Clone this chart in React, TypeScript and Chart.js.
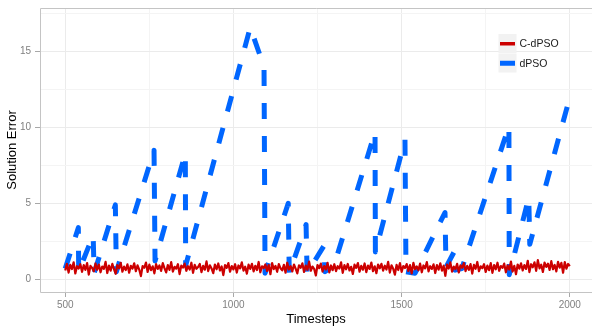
import React, { useEffect, useRef } from 'react';
import { Chart, registerables } from 'chart.js';

Chart.register(...registerables);

// ---- data ----
const seriesNames = ['C-dPSO', 'dPSO'];
const seriesColors = ['#CC0000', '#0066FF'];

// dPSO (dashed blue) vertices: timestep / error
const dpsoT = [500, 539, 540, 583, 586, 649, 652, 764, 767, 857, 858, 1050, 1091, 1094, 1163, 1166, 1216, 1219, 1269, 1272, 1299, 1421, 1422, 1510, 1513, 1540, 1629, 1632, 1656, 1659, 1679, 1819, 1820, 1878, 1881, 2000];
const dpsoV = [0.7, 3.4, 0.5, 2.9, 0.4, 4.9, 0.5, 8.5, 1.2, 8.3, 0.9, 16.6, 14.0, 0.4, 5.0, 0.4, 3.6, 0.4, 2.2, 0.5, 0.9, 9.7, 1.8, 9.2, 0.5, 0.4, 4.4, 0.8, 1.8, 0.6, 0.7, 10.1, 0.3, 5.4, 2.3, 12.0];

// C-dPSO (red) sampled every 5 timesteps from 500 to 2000
const cdpsoStart = 500;
const cdpsoStep = 5;
const cdpsoV = [
  0.58, 1.02, 0.44, 0.95, 0.67, 1.12, 0.38, 0.86, 0.71, 0.99, 0.49, 0.93, 0.62, 1.07, 0.31, 0.88, 0.74, 0.52, 1.04, 0.63,
  0.97, 0.46, 0.84, 0.69, 1.15, 0.41, 0.90, 0.57, 1.01, 0.66, 0.36, 0.94, 0.72, 1.08, 0.50, 0.83, 0.61, 0.98, 0.43, 0.89,
  0.70, 1.05, 0.53, 0.92, 0.64, 0.21, 0.87, 0.76, 1.10, 0.48, 0.96, 0.60, 0.85, 0.39, 1.00, 0.68, 0.91, 0.55, 1.06, 0.73,
  0.45, 0.94, 0.62, 1.13, 0.51, 0.82, 0.70, 0.99, 0.34, 0.90, 0.77, 1.03, 0.56, 0.86, 0.64, 1.09, 0.42, 0.95, 0.69, 0.81,
  1.01, 0.47, 0.88, 0.63, 1.18, 0.54, 0.92, 0.71, 0.40, 0.97, 0.66, 1.04, 0.58, 0.84, 0.27, 0.93, 0.75, 1.07, 0.50, 0.87,
  0.65, 0.99, 0.44, 0.91, 0.72, 1.11, 0.57, 0.83, 0.37, 0.96, 0.68, 1.02, 0.52, 0.89, 0.61, 1.14, 0.46, 0.85, 0.74, 0.98,
  0.55, 0.93, 0.33, 1.06, 0.67, 0.88, 0.49, 1.00, 0.72, 0.59, 0.95, 0.43, 1.09, 0.64, 0.86, 0.52, 0.97, 0.70, 0.39, 0.92,
  0.76, 1.05, 0.48, 0.90, 0.62, 1.16, 0.56, 0.84, 0.69, 0.25, 0.94, 0.73, 1.03, 0.51, 0.87, 0.65, 1.08, 0.45, 0.91, 0.60,
  0.99, 0.54, 0.86, 0.71, 1.12, 0.42, 0.93, 0.66, 1.01, 0.58, 0.82, 0.35, 0.96, 0.75, 1.07, 0.50, 0.88, 0.63, 1.04, 0.47,
  0.90, 0.68, 1.10, 0.53, 0.85, 0.40, 0.97, 0.72, 1.02, 0.57, 0.89, 0.64, 1.15, 0.44, 0.92, 0.70, 0.30, 0.95, 0.61, 1.06,
  0.49, 0.87, 0.74, 1.00, 0.55, 0.93, 0.38, 1.08, 0.66, 0.84, 0.59, 1.03, 0.46, 0.91, 0.72, 1.13, 0.52, 0.86, 0.68, 0.98,
  0.41, 0.94, 0.63, 1.05, 0.57, 0.89, 0.23, 0.96, 0.71, 1.11, 0.50, 0.83, 0.67, 1.02, 0.45, 0.92, 0.76, 1.07, 0.54, 0.88,
  0.62, 1.00, 0.37, 0.95, 0.69, 1.14, 0.53, 0.85, 0.73, 0.99, 0.48, 0.90, 0.60, 1.06, 0.42, 0.94, 0.66, 1.09, 0.56, 0.87,
  0.75, 1.03, 0.46, 0.91, 0.64, 1.17, 0.51, 0.88, 0.33, 0.97, 0.70, 1.05, 0.58, 0.93, 0.68, 1.22, 0.47, 0.99, 0.79, 1.12,
  0.55, 1.26, 0.72, 0.96, 0.48, 1.10, 0.81, 1.03, 0.61, 1.19, 0.66, 0.94, 0.52, 1.15, 0.77, 1.08, 0.43, 1.13, 0.70, 1.01,
  0.86,
];

const xTicks = [500, 750, 1000, 1250, 1500, 1750, 2000];
const xMajor = [500, 1000, 1500, 2000];
const yTicks = [0, 2.5, 5, 7.5, 10, 12.5, 15, 17.5];
const yMajor = [0, 5, 10, 15];

const FONT = "'Liberation Sans', Arial, Helvetica, sans-serif";

const panelPlugin = {
  id: 'panelDecor',
  afterDatasetsDraw(chart: any) {
    const { ctx, chartArea: a } = chart;
    ctx.save();
    ctx.strokeStyle = '#c4c4c4';
    ctx.lineWidth = 1;
    ctx.setLineDash([]);
    ctx.beginPath();
    const l = Math.round(a.left) + 0.5;
    const t = Math.round(a.top) + 0.5;
    const b = Math.round(a.bottom) + 0.5;
    ctx.moveTo(a.right + 5, t);
    ctx.lineTo(l, t);
    ctx.lineTo(l, b);
    ctx.lineTo(a.right + 5, b);
    ctx.stroke();

    // legend
    const x0 = 498.5;
    const y0 = 34;
    const h = 19.5;
    chart.data.datasets.forEach((ds: any, i: number) => {
      const y = y0 + i * h;
      ctx.fillStyle = '#f2f2f2';
      ctx.fillRect(x0, y, 18, h - 0.5);
      ctx.strokeStyle = ds.borderColor;
      ctx.lineWidth = i === 0 ? 3.5 : 5;
      ctx.setLineDash([]);
      ctx.lineCap = 'butt';
      ctx.beginPath();
      ctx.moveTo(x0 + 1.5, y + h / 2);
      ctx.lineTo(x0 + 16.5, y + h / 2);
      ctx.stroke();
      ctx.fillStyle = '#1a1a1a';
      ctx.font = `10.5px ${FONT}`;
      ctx.textBaseline = 'middle';
      ctx.textAlign = 'left';
      ctx.fillText(ds.label, 519.5, y + h / 2 + 0.5);
    });
    ctx.restore();
  },
};

export default function App() {
  const ref = useRef<HTMLCanvasElement | null>(null);

  useEffect(() => {
    if (!ref.current) return;
    const redData = cdpsoV.map((v, i) => ({ x: cdpsoStart + i * cdpsoStep, y: v }));
    const blueData = dpsoT.map((t, i) => ({ x: t, y: dpsoV[i] }));

    const chart = new Chart(ref.current, {
      type: 'line',
      data: {
        datasets: [
          {
            label: seriesNames[0],
            data: redData,
            borderColor: seriesColors[0],
            backgroundColor: seriesColors[0],
            borderWidth: 2.2,
            borderJoinStyle: 'round',
            pointRadius: 0,
            tension: 0,
            fill: false,
          },
          {
            label: seriesNames[1],
            data: blueData,
            borderColor: seriesColors[1],
            backgroundColor: seriesColors[1],
            borderWidth: 5,
            borderDash: [16, 17],
            borderCapStyle: 'butt',
            borderJoinStyle: 'round',
            pointRadius: 0,
            tension: 0,
            fill: false,
          },
        ],
      },
      options: {
        animation: false,
        responsive: false,
        devicePixelRatio: 1,
        layout: { padding: { top: 8, right: 0, left: 0, bottom: 0 } },
        plugins: {
          legend: { display: false },
          tooltip: { enabled: false },
        },
        scales: {
          x: {
            type: 'linear',
            min: 425,
            max: 2066,
            afterBuildTicks: (scale: any) => {
              scale.ticks = xTicks.map((v) => ({ value: v }));
            },
            afterFit: (scale: any) => {
              scale.height = 34;
              scale.paddingLeft = 0;
              scale.paddingRight = 0;
            },
            grid: {
              color: (c: any) => (c.tick && xMajor.includes(c.tick.value) ? '#ebebeb' : '#f4f4f4'),
              tickColor: (c: any) => (c.tick && xMajor.includes(c.tick.value) ? '#a8a8a8' : 'rgba(0,0,0,0)'),
              tickLength: 5,
              drawTicks: true,
            },
            border: { display: false },
            ticks: {
              autoSkip: false,
              maxRotation: 0,
              padding: 2,
              color: '#808080',
              font: { family: FONT, size: 10 },
              callback: (v: any) => (xMajor.includes(Number(v)) ? String(v) : ''),
            },
            title: {
              display: true,
              text: 'Timesteps',
              color: '#000000',
              font: { family: FONT, size: 13, lineHeight: 1 },
              padding: { top: 0, bottom: 0 },
            },
          },
          y: {
            type: 'linear',
            min: -0.84,
            max: 17.88,
            afterBuildTicks: (scale: any) => {
              scale.ticks = yTicks.map((v) => ({ value: v }));
            },
            afterFit: (scale: any) => {
              scale.width = 40;
              scale.paddingTop = 0;
              scale.paddingBottom = 0;
            },
            grid: {
              color: (c: any) => (c.tick && yMajor.includes(c.tick.value) ? '#ebebeb' : '#f4f4f4'),
              tickColor: (c: any) => (c.tick && yMajor.includes(c.tick.value) ? '#a8a8a8' : 'rgba(0,0,0,0)'),
              tickLength: 5,
              drawTicks: true,
            },
            border: { display: false },
            ticks: {
              autoSkip: false,
              padding: 4,
              color: '#808080',
              font: { family: FONT, size: 10 },
              callback: (v: any) => (yMajor.includes(Number(v)) ? String(v) : ''),
            },
            title: {
              display: true,
              text: 'Solution Error',
              color: '#000000',
              font: { family: FONT, size: 13, lineHeight: 1 },
              padding: { top: 6, bottom: 0 },
            },
          },
        },
      },
      plugins: [panelPlugin],
    } as any);

    return () => chart.destroy();
  }, []);

  return (
    <div style={{ position: 'fixed', left: 0, top: 0, width: 592, height: 326, background: '#ffffff' }}>
      <canvas ref={ref} width={592} height={326} style={{ display: 'block', width: 592, height: 326 }} />
    </div>
  );
}
